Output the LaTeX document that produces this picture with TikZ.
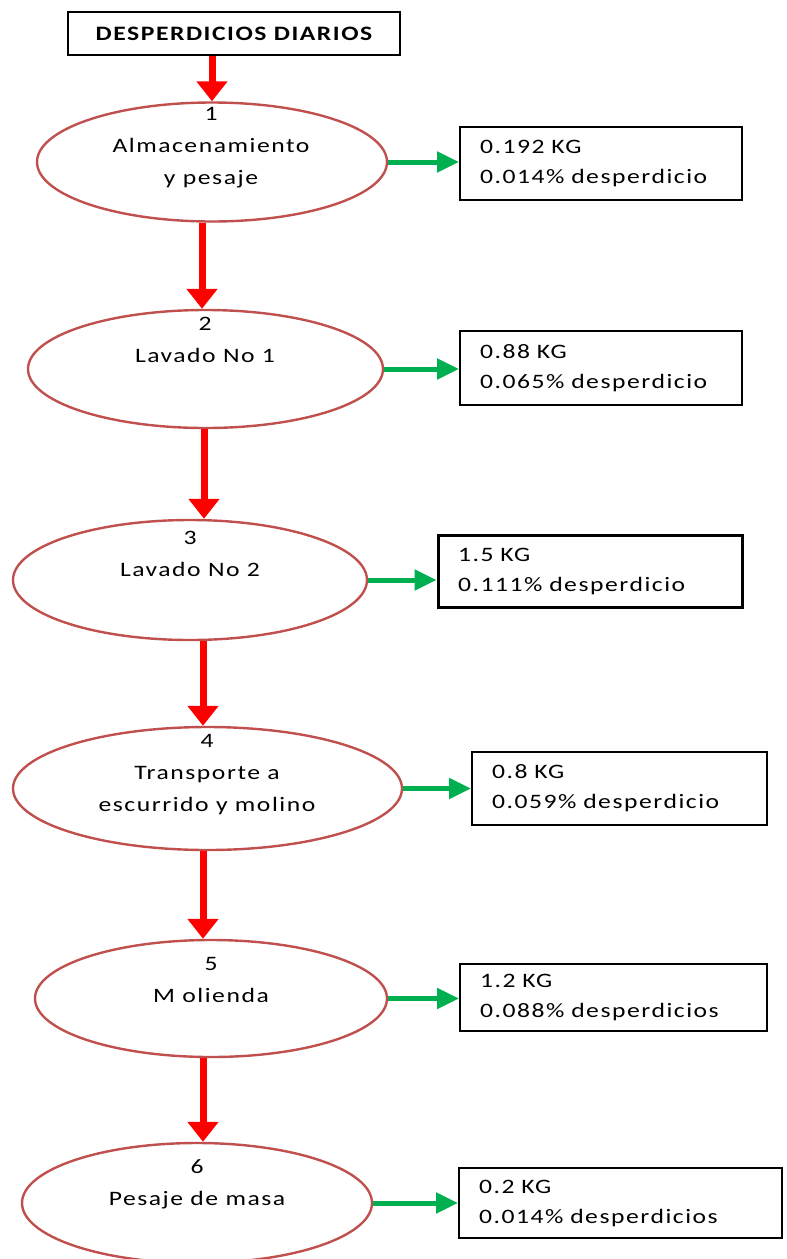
\documentclass[tikz,border=0pt]{standalone}
\usepackage{fontspec}
\setmainfont{Carlito}[FakeStretch=1.25,LetterSpace=7.5]
\usetikzlibrary{shapes.geometric,arrows.meta}
\definecolor{stepred}{RGB}{192,80,77}
\definecolor{flowred}{RGB}{255,0,0}
\definecolor{flowgreen}{RGB}{0,176,80}
\tikzset{
  stage/.style={ellipse,draw=stepred,line width=2.4pt,inner sep=0pt},
  stagetext/.style={align=center,font=\fontsize{20.5}{32}\selectfont},
  wastebox/.style={rectangle,draw=black,line width=2pt,inner xsep=20pt,align=left,
    font=\fontsize{20.5}{30}\selectfont},
  mainflow/.style={draw=flowred,line width=7pt,-{Triangle[width=30pt,length=20pt]}},
  wasteflow/.style={draw=flowgreen,line width=5pt,-{Triangle[width=20pt,length=22pt]}}
}
\begin{document}
\begin{tikzpicture}[x=1pt,y=-1pt]
\useasboundingbox (0,0) rectangle (787,1259);
\begin{scope}
\clip (0,0) rectangle (787,1259);
% title
\node[rectangle,draw=black,line width=2pt,minimum width=332pt,minimum height=43pt,
  font=\fontsize{20.5}{20}\selectfont\bfseries] (title) at (234,33.5) {DESPERDICIOS DIARIOS};

% process stages
\node[stage,minimum width=350pt,minimum height=119pt] (e1) at (212,162) {};
\node[stage,minimum width=355pt,minimum height=118pt] (e2) at (205.5,369) {};
\node[stage,minimum width=354pt,minimum height=120pt] (e3) at (190,580) {};
\node[stage,minimum width=389pt,minimum height=123pt] (e4) at (207.5,788.5) {};
\node[stage,minimum width=352pt,minimum height=117pt] (e5) at (211,998.5) {};
\node[stage,minimum width=350pt,minimum height=120pt] (e6) at (197,1203) {};

\node[stagetext,anchor=north] (t1) at (211,104) {1\\Almacenamiento\\y pesaje};
\node[stagetext,anchor=north] (t2) at (205,314) {2\\Lavado No 1};
\node[stagetext,anchor=north] (t3) at (190,528) {3\\Lavado No 2};
\node[stagetext,anchor=north] (t4) at (207,731) {4\\Transporte a\\escurrido y molino};
\node[stagetext,anchor=north] (t5) at (211,954) {5\\M olienda};
\node[stagetext,anchor=north] (t6) at (197,1156) {6\\Pesaje de masa};

% waste boxes
\node[wastebox,minimum width=282pt,minimum height=73pt,text width=242pt] (b1) at (601,163.5)
  {\raisebox{-3pt}{0.192 KG}\\\raisebox{-3pt}{0.014\% desperdicio}};
\node[wastebox,minimum width=282pt,minimum height=74pt,text width=242pt] (b2) at (601,368)
  {\raisebox{-3pt}{0.88 KG}\\\raisebox{-3pt}{0.065\% desperdicio}};
\node[wastebox,line width=3pt,minimum width=304pt,minimum height=72pt,text width=264pt] (b3) at (590,571)
  {\raisebox{-2pt}{1.5 KG}\\\raisebox{-2pt}{0.111\% desperdicio}};
\node[wastebox,minimum width=295pt,minimum height=73pt,text width=255pt] (b4) at (619.5,788.5)
  {\raisebox{-3pt}{0.8 KG}\\\raisebox{-3pt}{0.059\% desperdicio}};
\node[wastebox,minimum width=307pt,minimum height=67pt,text width=267pt] (b5) at (613.5,997.5)
  {\raisebox{-3pt}{1.2 KG}\\\raisebox{-3pt}{0.088\% desperdicios}};
\node[wastebox,minimum width=323pt,minimum height=70pt,text width=283pt] (b6) at (620.5,1203)
  {\raisebox{-3pt}{0.2 KG}\\\raisebox{-3pt}{0.014\% desperdicios}};

% main flow
\draw[mainflow] (title.south -| 212,0) -- (e1.north -| 212,0);
\draw[mainflow] (e1.south -| 202,0) -- (e2.north -| 202,0);
\draw[mainflow] (e2.south -| 204,0) -- (e3.north -| 204,0);
\draw[mainflow] (e3.south -| 203,0) -- (e4.north -| 203,0);
\draw[mainflow] (e4.south -| 203,0) -- (e5.north -| 203,0);
\draw[mainflow] (e5.south -| 203,0) -- (e6.north -| 203,0);

% waste flow
\draw[wasteflow] (e1.east) -- (e1.east -| b1.west);
\draw[wasteflow] (e2.east) -- (e2.east -| b2.west);
\draw[wasteflow] (e3.east) -- (e3.east -| b3.west);
\draw[wasteflow] (e4.east) -- (e4.east -| b4.west);
\draw[wasteflow] (e5.east) -- (e5.east -| b5.west);
\draw[wasteflow] (e6.east) -- (e6.east -| b6.west);
\end{scope}
\end{tikzpicture}
\end{document}
